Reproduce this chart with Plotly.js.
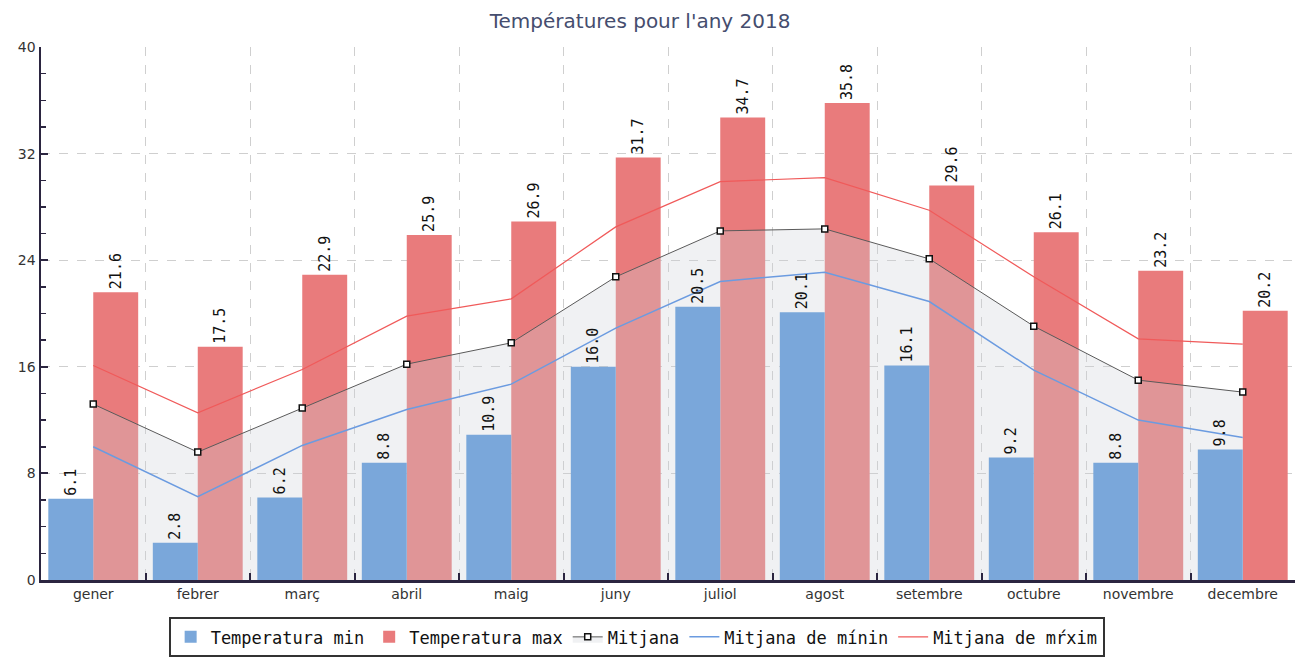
<!DOCTYPE html>
<html>
<head>
<meta charset="utf-8">
<script src="https://cdn.plot.ly/plotly-3.0.1.min.js"></script>
<style>html,body{margin:0;padding:0;background:#fff;}#chart{width:1301px;height:670px;}</style>
</head>
<body>
<div id="chart"></div>
<script>
const months = ["gener","febrer","març","abril","maig","juny","juliol","agost","setembre","octubre","novembre","decembre"];
const tempMin = [6.1, 2.8, 6.2, 8.8, 10.9, 16.0, 20.5, 20.1, 16.1, 9.2, 8.8, 9.8];
const tempMax = [21.6, 17.5, 22.9, 25.9, 26.9, 31.7, 34.7, 35.8, 29.6, 26.1, 23.2, 20.2];
const mitjana = [13.2, 9.6, 12.9, 16.2, 17.8, 22.75, 26.2, 26.35, 24.1, 19.05, 15.0, 14.1];
const mitjanaMin = [10.0, 6.25, 10.1, 12.8, 14.7, 18.9, 22.4, 23.1, 20.9, 15.75, 12.0, 10.7];
const mitjanaMax = [16.1, 12.55, 15.8, 19.8, 21.1, 26.5, 29.9, 30.2, 27.75, 22.75, 18.1, 17.7];
const yTicks = [0, 8, 16, 24, 32, 40];

const labelFont = {family: "DejaVu Sans Mono", size: 15, color: "#111"};
const BAR_W = 0.43;

const traces = [
  {
    type: "bar", name: "Temperatura min", x: months, y: tempMin, yaxis: "y2",
    width: BAR_W, offset: -BAR_W,
    marker: {color: "#7aa7da"},
    text: tempMin.map(v => v.toFixed(1)), textposition: "outside", textangle: -90,
    textfont: labelFont, cliponaxis: false, constraintext: "none"
  },
  {
    type: "bar", name: "Temperatura max", x: months, y: tempMax,
    width: BAR_W, offset: 0,
    marker: {color: "#e97b7c"},
    text: tempMax.map(v => v.toFixed(1)), textposition: "outside", textangle: -90,
    textfont: labelFont, cliponaxis: false, constraintext: "none"
  },
  {
    type: "scatter", mode: "lines+markers", name: "Mitjana", x: months, y: mitjana,
    line: {color: "#5a5a5a", width: 1},
    marker: {symbol: "square", size: 6, color: "#ffffff", line: {color: "#111", width: 1.5}},
    fill: "tozeroy", fillcolor: "rgba(205,210,216,0.30)"
  },
  {
    type: "scatter", mode: "lines", name: "Mitjana de mínin", x: months, y: mitjanaMin,
    line: {color: "#6b9be0", width: 1.5}
  },
  {
    type: "scatter", mode: "lines", name: "Mitjana de mŕxim", x: months, y: mitjanaMax,
    line: {color: "#f05a5a", width: 1.2}
  }
];

const layout = {
  width: 1301, height: 670,
  margin: {l: 41, r: 6, t: 47, b: 90},
  paper_bgcolor: "#ffffff", plot_bgcolor: "#ffffff",
  title: {
    text: "Températures pour l'any 2018",
    x: 0.492, xanchor: "center", y: 0.968, yanchor: "middle",
    font: {family: "DejaVu Sans", size: 20, color: "#454d6e"}
  },
  barmode: "overlay",
  showlegend: true,
  legend: {
    orientation: "h", x: 0.475, xanchor: "center", y: -0.07, yanchor: "top",
    bordercolor: "#333", borderwidth: 2, bgcolor: "#ffffff",
    font: {family: "DejaVu Sans Mono", size: 17, color: "#111"},
    itemwidth: 30, traceorder: "normal"
  },
  xaxis: {
    type: "category", tickson: "boundaries",
    ticks: "inside", ticklen: 7, tickwidth: 2, tickcolor: "#2b2540",
    showline: true, linecolor: "#2b2540", linewidth: 2.5,
    showgrid: true, gridcolor: "#cfcfcf", griddash: "dash", gridwidth: 1,
    tickfont: {family: "DejaVu Sans", size: 14, color: "#333"},
    range: [-0.5, 11.5], zeroline: false
  },
  yaxis: {
    range: [0, 40], tickvals: yTicks, ticktext: yTicks.map(String),
    ticks: "inside", ticklen: 7, tickwidth: 2, tickcolor: "#2b2540",
    minor: {dtick: 2, tick0: 0, ticks: "inside", ticklen: 5, tickwidth: 1.5, tickcolor: "#2b2540", showgrid: false},
    showline: true, linecolor: "#2b2540", linewidth: 2.5,
    showgrid: true, gridcolor: "#cfcfcf", griddash: "dash", gridwidth: 1,
    tickfont: {family: "DejaVu Sans", size: 14, color: "#333"},
    zeroline: false
  },
  yaxis2: {
    overlaying: "y", range: [0, 40], visible: false, showgrid: false, zeroline: false
  }
};

Plotly.newPlot("chart", traces, layout, {displayModeBar: false, staticPlot: true});
</script>
</body>
</html>
